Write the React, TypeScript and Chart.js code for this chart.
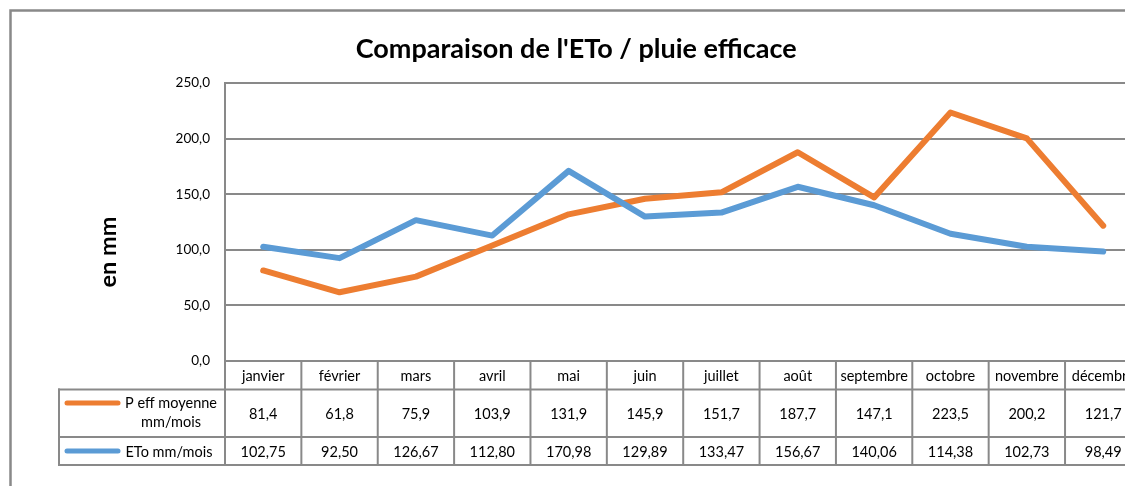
import React, { useEffect, useRef } from "react";
import { Chart, registerables } from "chart.js";

Chart.register(...registerables);

const months = ["janvier", "février", "mars", "avril", "mai", "juin", "juillet", "août", "septembre", "octobre", "novembre", "décembre"];
const pEff = [81.4, 61.8, 75.9, 103.9, 131.9, 145.9, 151.7, 187.7, 147.1, 223.5, 200.2, 121.7];
const eto = [102.75, 92.5, 126.67, 112.8, 170.98, 129.89, 133.47, 156.67, 140.06, 114.38, 102.73, 98.49];
const pEffLabel = ["P eff moyenne", "mm/mois"];
const etoLabel = ["ETo mm/mois"];
const titleText = "Comparaison de l'ETo / pluie efficace";
const yTitleText = "en mm";
const yMin = 0;
const yMax = 250;
const yStep = 50;

const FONT = "Lato, 'Open Sans', sans-serif";
const GRID = "#898989";
const ORANGE = "#ED7D31";
const BLUE = "#5B9BD5";
const VIEW_W = 1125;
const VIEW_H = 478;
const W = 1160;
const H = 478;
const PLOT_RIGHT = 1133.4;

const fmt = (v: number, d: number) => v.toFixed(d).replace(".", ",");

const framePlugin = {
  id: "frame",
  beforeDraw(chart: any) {
    const { ctx } = chart;
    ctx.save();
    ctx.fillStyle = "#ffffff";
    ctx.fillRect(0, 0, chart.width, chart.height);
    ctx.strokeStyle = GRID;
    ctx.lineWidth = 2.5;
    ctx.beginPath();
    ctx.moveTo(2.5, chart.height + 5);
    ctx.lineTo(2.5, 2.5);
    ctx.lineTo(chart.width + 5, 2.5);
    ctx.stroke();
    ctx.restore();
  },
};

const tablePlugin = {
  id: "dataTable",
  afterDraw(chart: any) {
    const { ctx, chartArea, scales } = chart;
    const x = scales.x;
    const half = (x.getPixelForValue(1) - x.getPixelForValue(0)) / 2;
    const top = chartArea.bottom;
    const r1 = top + 28.5;
    const r2 = r1 + 47.5;
    const r3 = r2 + 28;
    const legendLeft = 51;
    const right = x.getPixelForValue(months.length - 1) + half;
    const seg = (x1: number, y1: number, x2: number, y2: number) => {
      ctx.beginPath();
      ctx.moveTo(x1, y1);
      ctx.lineTo(x2, y2);
      ctx.stroke();
    };
    ctx.save();
    ctx.strokeStyle = GRID;
    ctx.lineWidth = 2;
    ctx.lineCap = "square";
    seg(legendLeft, r1, right, r1);
    seg(legendLeft, r2, right, r2);
    seg(legendLeft, r3, right, r3);
    seg(legendLeft, r1, legendLeft, r3);
    for (let i = 0; i <= months.length; i++) {
      const bx = i < months.length ? x.getPixelForValue(i) - half : right;
      seg(bx, top, bx, r3);
    }
    ctx.fillStyle = "#000";
    ctx.textAlign = "center";
    ctx.textBaseline = "middle";
    ctx.font = `14.5px ${FONT}`;
    months.forEach((m, i) => {
      const cx = x.getPixelForValue(i);
      ctx.fillText(m, cx, (top + r1) / 2 + 1);
      ctx.fillText(fmt(pEff[i], 1), cx, (r1 + r2) / 2 + 1);
      ctx.fillText(fmt(eto[i], 2), cx, (r2 + r3) / 2 + 1);
    });
    // legend keys
    ctx.lineCap = "round";
    ctx.lineWidth = 5;
    ctx.strokeStyle = ORANGE;
    seg(59, r1 + 13.5, 110, r1 + 13.5);
    ctx.strokeStyle = BLUE;
    seg(59, (r2 + r3) / 2, 110, (r2 + r3) / 2);
    ctx.fillText(pEffLabel[0], 163, r1 + 13.5);
    ctx.fillText(pEffLabel[1], 163, r1 + 32.5);
    ctx.fillText(etoLabel[0], 161, (r2 + r3) / 2 + 1);
    // y title
    ctx.save();
    ctx.translate(100, 244);
    ctx.rotate(-Math.PI / 2);
    ctx.font = `bold 23.5px ${FONT}`;
    ctx.fillText(yTitleText, 0, 0);
    ctx.restore();
    ctx.restore();
  },
};

export default function App() {
  const ref = useRef<HTMLCanvasElement | null>(null);
  useEffect(() => {
    document.documentElement.style.overflow = "hidden";
    document.body.style.overflow = "hidden";
    if (!ref.current) return;
    const chart = new Chart(ref.current, {
      type: "line",
      data: {
        labels: months,
        datasets: [
          {
            label: pEffLabel.join(" "),
            data: pEff,
            borderColor: ORANGE,
            backgroundColor: ORANGE,
            borderWidth: 6,
            pointRadius: 0,
            tension: 0,
            borderCapStyle: "round",
            borderJoinStyle: "round",
            order: 1,
          },
          {
            label: etoLabel[0],
            data: eto,
            borderColor: BLUE,
            backgroundColor: BLUE,
            borderWidth: 6,
            pointRadius: 0,
            tension: 0,
            borderCapStyle: "round",
            borderJoinStyle: "round",
            order: 0,
          },
        ],
      },
      options: {
        animation: false,
        responsive: false,
        maintainAspectRatio: false,
        layout: { padding: { left: 3, right: W - PLOT_RIGHT, top: 0, bottom: H - 353 } },
        plugins: {
          legend: { display: false },
          tooltip: { enabled: false },
          title: {
            display: true,
            text: titleText,
            color: "#000",
            font: { family: FONT, size: 27, weight: "bold" },
            padding: { top: 25.3, bottom: 17.3 },
          },
        },
        scales: {
          x: { display: false, offset: true, grid: { display: false } },
          y: {
            min: yMin,
            max: yMax,
            ticks: {
              stepSize: yStep,
              color: "#000",
              font: { family: FONT, size: 13.5 },
              padding: 15,
              callback: (v: any) => fmt(Number(v), 1),
            },
            grid: { color: GRID, lineWidth: 2, drawTicks: false },
            border: { display: true, color: GRID, width: 2 },
            afterFit: (s: any) => {
              s.width = 214;
            },
          },
        },
      },
      plugins: [framePlugin, tablePlugin],
    });
    return () => chart.destroy();
  }, []);
  return (
    <div style={{ width: VIEW_W, height: VIEW_H, overflow: "hidden", position: "relative" }}>
      <canvas
        ref={ref}
        width={W}
        height={H}
        style={{ position: "absolute", left: 0, top: 0, width: W, height: H, display: "block" }}
      />
    </div>
  );
}
